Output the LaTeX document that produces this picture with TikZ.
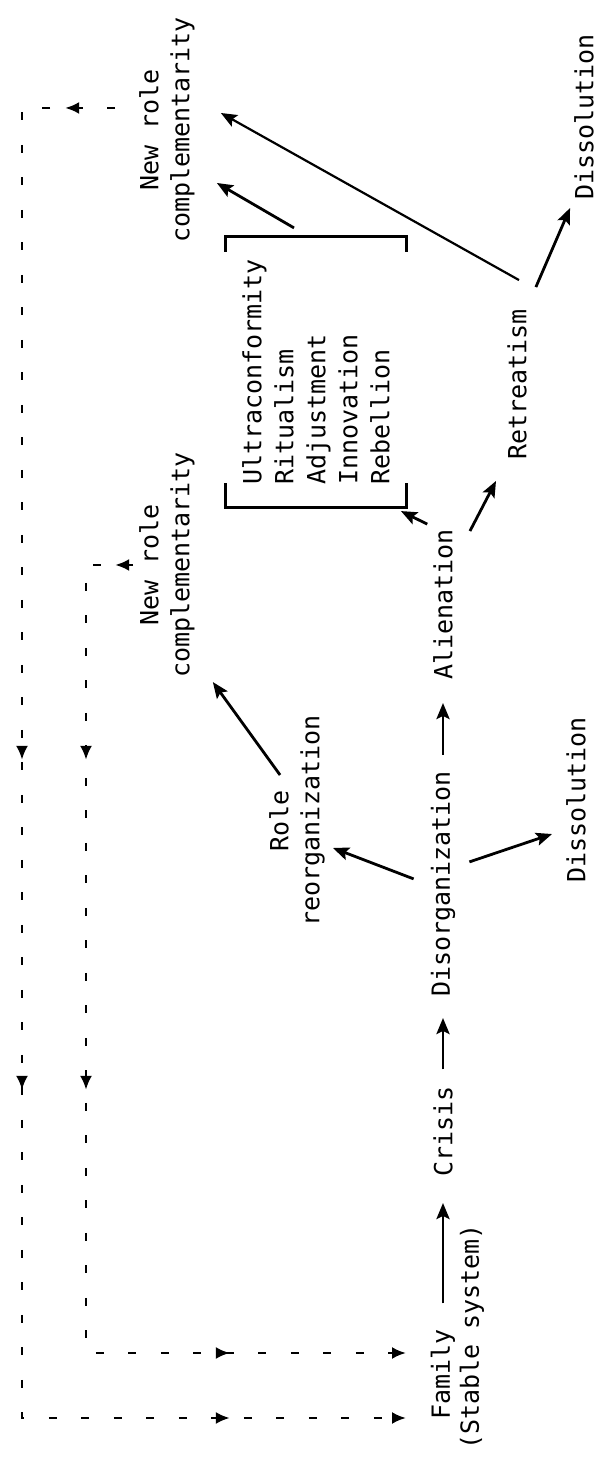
\documentclass[tikz,border=0pt]{standalone}
\usepackage{fontspec}
\setmainfont{DejaVu Sans Mono}
\usetikzlibrary{arrows.meta,calc,decorations.markings}
\begin{document}
\begin{tikzpicture}[x=1pt,y=1pt,rotate=90,transform shape,
  lbl/.style={inner sep=4pt,font=\fontsize{25}{31}\selectfont},
  arr/.style={-{Stealth[length=16pt,width=13pt,inset=3pt]},line width=2.8pt},
  fbtip/.tip={Latex[length=14pt,width=12pt]},
  fb/.style={-fbtip,line width=2.6pt,dash pattern=on 8pt off 24.5pt,postaction={decorate}},
  brk/.style={line width=3pt}]
\useasboundingbox (0,0) rectangle (1458,-598);
\node[lbl,anchor=west](fam) at (34,-443) {Family};
\node[lbl,anchor=west](stab) at (4,-472) {(Stable system)};
\node[lbl,anchor=west](cri) at (277,-443) {Crisis};
\node[lbl,anchor=west](dis) at (457,-443) {Disorganization};
\node[lbl,anchor=west](ali) at (774,-443) {Alienation};
\node[lbl,anchor=west](ret) at (994,-517) {Retreatism};
\node[lbl,anchor=west](dsl1) at (571,-576) {Dissolution};
\node[lbl,anchor=west](dsl2) at (1254,-584) {Dissolution};
\node[lbl,align=center](role) at (637,-297) {Role\\reorganization};
\node[lbl,align=center](nrc1) at (893,-167) {New role\\complementarity};
\node[lbl,align=center](nrc2) at (1328,-167) {New role\\complementarity};
\node[lbl,align=left,inner xsep=22pt,inner ysep=17pt,font=\fontsize{25}{32}\selectfont](list) at (1086,-316) {Ultraconformity\\Ritualism\\Adjustment\\Innovation\\Rebellion};
\draw[brk]($(list.north west)+(24,0)$)--(list.north west)--(list.south west)--($(list.south west)+(24,0)$);
\draw[brk]($(list.north east)+(-15,0)$)--(list.north east)--(list.south east)--($(list.south east)+(-15,0)$);
\draw[arr,shorten <=22pt,shorten >=22pt](fam)--(cri);
\draw[arr,shorten <=13pt,shorten >=17pt](cri)--(dis);
\draw[arr,shorten <=12pt,shorten >=19pt](dis)--(ali);
\draw[arr]($(dis.north)+(5,13)$)--($(role.south)+(-27,-4)$);
\draw[arr]($(dis.south)+(22,-10)$)--($(dsl1.north)+(-34,10)$);
\draw[arr]($(role.north)+(46,-15)$)--($(nrc1.south west)+(0,-14)$);
\draw[arr,shorten <=2pt](ali.north east)--($(list.south west)+(-4,6)$);
\draw[arr]($(ali.south east)+(-6,-13)$)--($(ret.west)+(-17,21)$);
\draw[arr,line width=2.2pt]($(ret.east)+(25,-2)$)--($(nrc2.south)+(17,-22)$);
\draw[arr]($(ret.south east)+(18,-5)$)--($(dsl2.north west)+(-4,0)$);
\draw[arr]($(list.east)+(9,22)$)--($(nrc2.south)+(-53,-18)$);
\coordinate (ot) at (1350,-22);
\coordinate (ob) at (40,-22);
\coordinate (oe) at (40,-406);
\coordinate (it) at (893,-86);
\coordinate (ib) at (105,-86);
\coordinate (ie) at (105,-406);
\draw[fb,decoration={markings,mark=at position 50pt with {\arrow{fbtip}},mark=at position 745pt with {\arrow{fbtip}},mark=at position 1075pt with {\arrow{fbtip}},mark=at position 1611pt with {\arrow{fbtip}}}]
  ($(nrc2.north)+(22,20)$)--(ot)--(ob)--(oe);
\draw[fb,shorten <=2pt,decoration={markings,mark=at position 20pt with {\arrow{fbtip}},mark=at position 244pt with {\arrow{fbtip}},mark=at position 574pt with {\arrow{fbtip}},mark=at position 981pt with {\arrow{fbtip}}}]
  (nrc1.north)--(it)--(ib)--(ie);
\end{tikzpicture}
\end{document}
